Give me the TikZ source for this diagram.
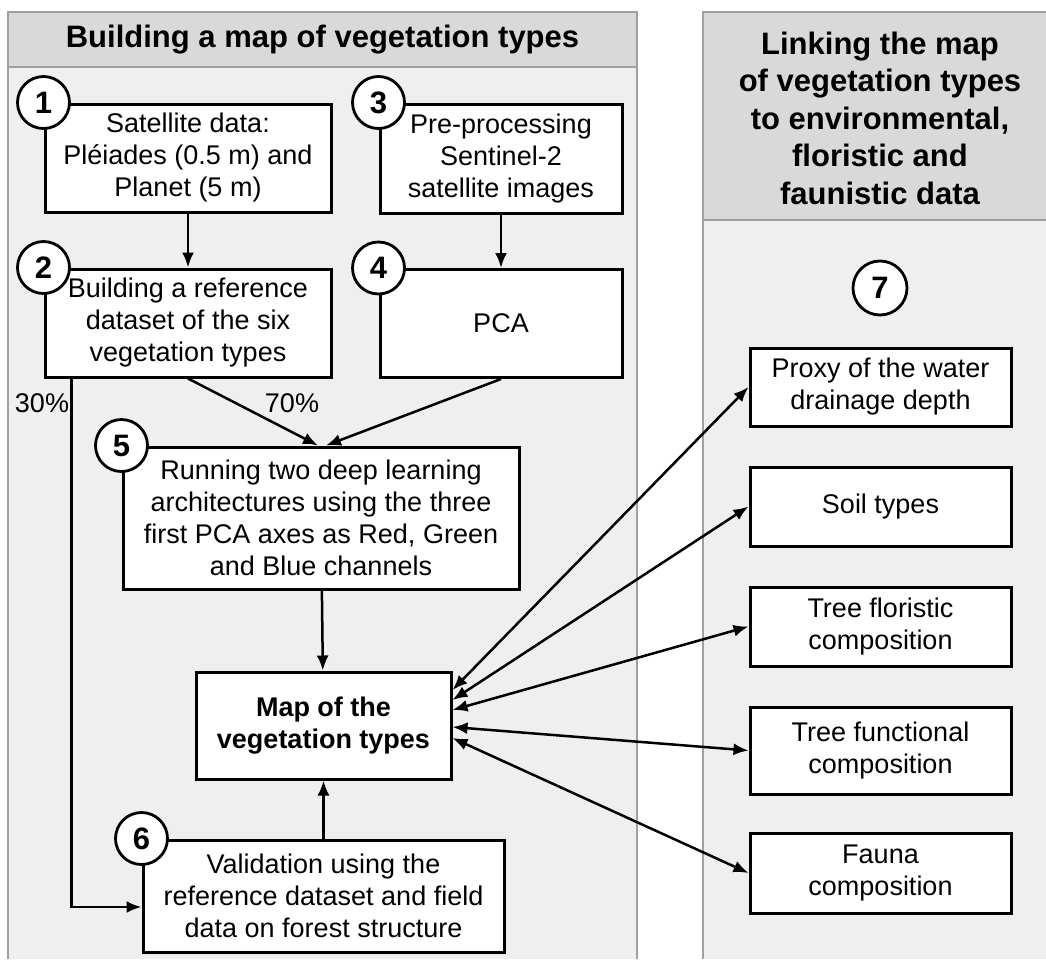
\documentclass[tikz,border=0pt]{standalone}
\usepackage{fontspec}
\setmainfont{Liberation Sans}
\usepackage{tikz}
\usetikzlibrary{arrows.meta}
\definecolor{headgray}{HTML}{D9D9D9}
\definecolor{bodygray}{HTML}{EFEFEF}
\definecolor{framegray}{HTML}{A0A0A0}
\tikzstyle{stepbox} = [draw, fill=white, line width=3pt, align=center,
inner sep=0pt, font=\fontsize{27}{32}\selectfont]
\tikzstyle{numcirc} = [draw, circle, fill=white, line width=2.8pt,
minimum size=52pt, inner sep=0pt, font=\fontsize{31}{31}\selectfont\bfseries]
\tikzstyle{headtext} = [align=center, font=\fontsize{31}{37.5}\selectfont\bfseries]
\tikzstyle{pct} = [font=\fontsize{27}{32}\selectfont]

\begin{document}
\begin{tikzpicture}[x=1pt, y=-1pt, line width=2.5pt, >={Latex[length=15pt,width=12pt]}]
\useasboundingbox (0,0) rectangle (1046,959);

% the two panels
\fill[bodygray] (8,12) rectangle (637,959);
\fill[headgray] (8,12) rectangle (637,67);
\draw[framegray, line width=2pt] (8,959) -- (8,12) -- (637,12) -- (637,959) (8,67) -- (637,67);
\fill[bodygray] (703,12) rectangle (1046,959);
\fill[headgray] (703,12) rectangle (1046,220);
\draw[framegray, line width=2pt] (703,959) -- (703,12) -- (1046,12) (703,220) -- (1046,220);

\node[headtext] (hdl) at (322.5,40) {Building a map of vegetation types};
\node[headtext] (hdr) at (880,118) {Linking the map\\of vegetation types\\to environmental,\\floristic and\\faunistic data};

% left column
\node[stepbox, minimum width=286pt, minimum height=108pt] (b1) at (188,158) {Satellite data:\\Pléiades (0.5 m) and\\Planet (5 m)};
\node[stepbox, minimum width=286pt, minimum height=108pt] (b2) at (188,323) {Building a reference\\dataset of the six\\vegetation types};
\node[stepbox, minimum width=242pt, minimum height=109pt] (b3) at (501,158.5) {Pre-processing\\Sentinel-2\\satellite images};
\node[stepbox, minimum width=242pt, minimum height=108pt] (b4) at (501,323.5) {PCA};
\node[stepbox, minimum width=396pt, minimum height=142pt] (b5) at (321,518) {Running two deep learning\\architectures using the three\\first PCA axes as Red, Green\\and Blue channels};
\node[stepbox, minimum width=255pt, minimum height=107pt, font=\fontsize{27}{32}\selectfont\bfseries] (map) at (323.5,725.5) {Map of the\\vegetation types};
\node[stepbox, minimum width=361pt, minimum height=112pt] (b6) at (323.5,896) {Validation using the\\reference dataset and field\\data on forest structure};

\node[numcirc] (c1) at (b1.north west) {1};
\node[numcirc] (c2) at (b2.north west) {2};
\node[numcirc] (c3) at (b3.north west) {3};
\node[numcirc] (c4) at (b4.north west) {4};
\node[numcirc] (c5) at (b5.north west) {5};
\node[numcirc] (c6) at (b6.north west) {6};

\draw[->] (b1) -- (b2);
\draw[->] (b3) -- (b4);
\draw[->] (b2.south) -- ([xshift=-3pt]b5.north);
\draw[->] (b4.south) -- ([xshift=5pt]b5.north);
\draw[->] (b5) -- (map);
\draw[->] (b6) -- (map);
\draw[->] ([xshift=28pt]b2.south west) |- ([yshift=-11pt]b6.west);

\node[pct] (p30) at (42,403) {30\%};
\node[pct] (p70) at (292,403) {70\%};

% right column
\node[numcirc, minimum size=54pt] (c7) at (880,288) {7};
\node[stepbox, minimum width=261pt, minimum height=78pt] (r1) at (880.5,387) {Proxy of the water\\drainage depth};
\node[stepbox, minimum width=261pt, minimum height=79pt] (r2) at (880.5,506.5) {Soil types};
\node[stepbox, minimum width=261pt, minimum height=79pt] (r3) at (880.5,626.5) {Tree floristic\\composition};
\node[stepbox, minimum width=261pt, minimum height=87pt] (r4) at (880.5,750.5) {Tree functional\\composition};
\node[stepbox, minimum width=261pt, minimum height=80pt] (r5) at (880.5,873) {Fauna\\composition};

\draw[<->] ([yshift=35.5pt]map.east) -- (r1.west);
\draw[<->] ([yshift=25.5pt]map.east) -- (r2.west);
\draw[<->] ([yshift=15.5pt]map.east) -- (r3.west);
\draw[<->] ([yshift=-1.5pt]map.east) -- (r4.west);
\draw[<->] ([yshift=-12.5pt]map.east) -- (r5.west);
\end{tikzpicture}
\end{document}
